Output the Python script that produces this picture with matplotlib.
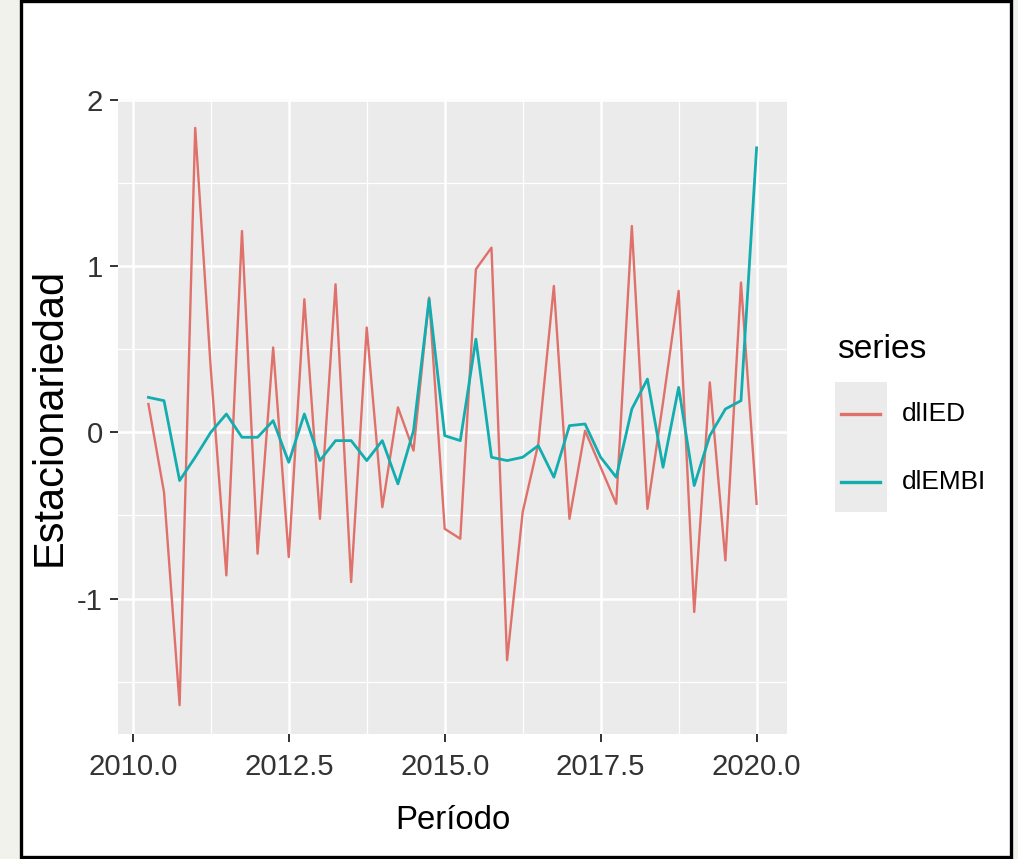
import numpy as np
import matplotlib
matplotlib.use('Agg')
import matplotlib.pyplot as plt
from matplotlib import font_manager
from matplotlib.patches import Rectangle
from matplotlib.lines import Line2D

# series trimestrales en diferencias (desde 2010 T2 hasta 2020 T1)
periodo = 2010.25 + 0.25 * np.arange(40)

dlIED = [0.17, -0.36, -1.64, 1.83, 0.38, -0.86, 1.21, -0.73, 0.51, -0.75,
         0.80, -0.52, 0.89, -0.90, 0.63, -0.45, 0.15, -0.11, 0.81, -0.58,
         -0.64, 0.98, 1.11, -1.37, -0.48, -0.07, 0.88, -0.52, 0.01, -0.21,
         -0.43, 1.24, -0.46, 0.18, 0.85, -1.08, 0.30, -0.77, 0.90, -0.43]

dlEMBI = [0.21, 0.19, -0.29, -0.15, 0.00, 0.11, -0.03, -0.03, 0.07, -0.18,
          0.11, -0.17, -0.05, -0.05, -0.17, -0.05, -0.31, 0.01, 0.80, -0.02,
          -0.05, 0.56, -0.15, -0.17, -0.15, -0.08, -0.27, 0.04, 0.05, -0.15,
          -0.27, 0.14, 0.32, -0.21, 0.27, -0.32, -0.02, 0.14, 0.19, 1.71]

series = ['dlIED', 'dlEMBI']
colores = ['#e0706a', '#13adaf']

xticks = [2010.0, 2012.5, 2015.0, 2017.5, 2020.0]
xlabels = ['2010.0', '2012.5', '2015.0', '2017.5', '2020.0']
yticks = [-1, 0, 1, 2]
ylabels = ['-1', '0', '1', '2']

# fuente angosta si esta disponible
nombres = {f.name for f in font_manager.fontManager.ttflist}
if 'Liberation Sans Narrow' in nombres:
    angosta, k = 'Liberation Sans Narrow', 1.0
else:
    angosta, k = 'Liberation Sans', 0.86
plt.rcParams['font.family'] = ['Liberation Sans', 'DejaVu Sans']

W, H = 1018, 859
fig = plt.figure(figsize=(W / 100, H / 100), dpi=100, facecolor='#f2f2ec')

# marco
fig.add_artist(Rectangle((21 / W, 1 - 857 / H), (1011 - 21) / W, (857 - 1) / H,
                         transform=fig.transFigure, facecolor='white',
                         edgecolor='black', linewidth=2.4, zorder=-1))

ax = fig.add_axes([118 / W, 1 - 734 / H, (787 - 118) / W, (734 - 99) / H])
ax.set_facecolor('#ebebeb')
for s in ax.spines.values():
    s.set_visible(False)

ax.plot(periodo, dlIED, color=colores[0], lw=1.7, zorder=3)
ax.plot(periodo, dlEMBI, color=colores[1], lw=2.0, zorder=4)
ax.margins(x=0.05, y=0.05)

ax.set_xticks(xticks)
ax.set_xticklabels(xlabels, fontfamily=angosta)
ax.set_xticks([2011.25, 2013.75, 2016.25, 2018.75], minor=True)
ax.set_yticks(yticks)
ax.set_yticklabels(ylabels, fontfamily=angosta)
ax.set_yticks([-1.5, -0.5, 0.5, 1.5], minor=True)

ax.grid(which='major', color='white', lw=1.8)
ax.grid(which='minor', color='white', lw=0.9)
ax.set_axisbelow(True)
ax.tick_params(which='minor', length=0)
ax.tick_params(axis='x', which='major', pad=8)
ax.tick_params(axis='y', which='major', pad=5)
ax.tick_params(which='major', length=6, width=1.4, color='#333333',
               labelcolor='#333333', labelsize=24.5 * k)

ax.set_xlabel('Período', fontsize=27.5 * k, fontfamily=angosta, color='black')
ax.xaxis.set_label_coords(0.5, -0.112)
ax.set_ylabel('Estacionariedad', fontsize=30, color='black')
ax.yaxis.set_label_coords(-0.072, 0.5)

# leyenda
fig.text(837 / W, 1 - 350 / H, 'series', fontsize=28 * k, fontfamily=angosta,
         ha='left', va='center')
fig.add_artist(Rectangle((835 / W, 1 - 512 / H), 52 / W, 130 / H,
                         transform=fig.transFigure, facecolor='#ebebeb',
                         edgecolor='none'))
for nombre, color, yy in zip(series, colores, [414, 482]):
    fig.add_artist(Line2D([841 / W, 880 / W], [1 - yy / H, 1 - yy / H],
                          transform=fig.transFigure, color=color, lw=2.4))
    fig.text(902 / W, 1 - yy / H, nombre, fontsize=22 * k, fontfamily=angosta,
             ha='left', va='center')

fig.savefig('out.png', dpi=100, facecolor=fig.get_facecolor())
